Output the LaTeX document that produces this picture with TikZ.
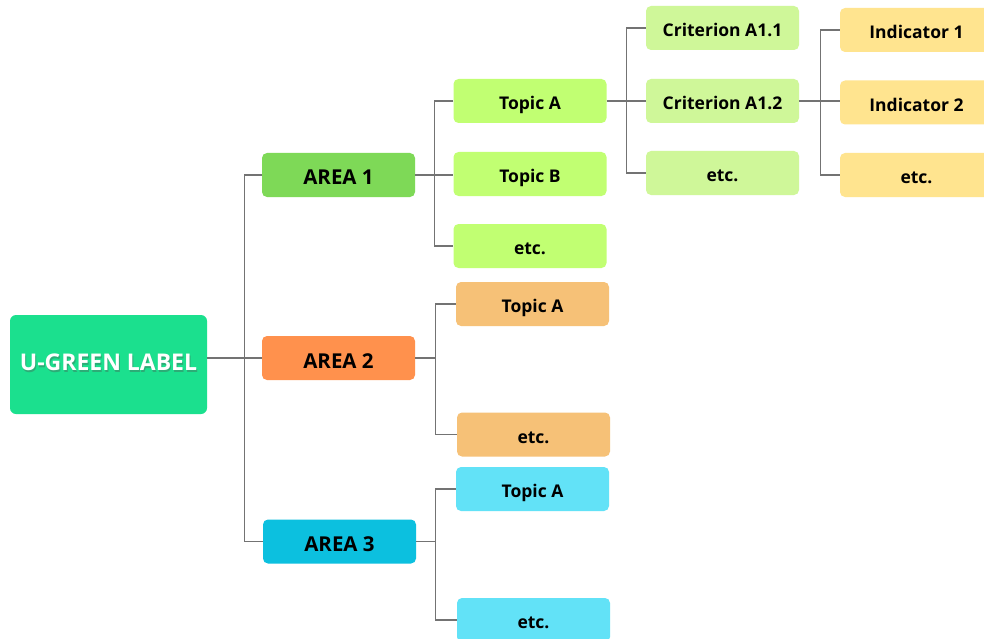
\documentclass[tikz,border=0pt]{standalone}
\usepackage{fontspec}
\setmainfont{Open Sans}
\definecolor{labelgreen}{HTML}{1BE08E}
\definecolor{areaone}{HTML}{7ED957}
\definecolor{areatwo}{HTML}{FF914D}
\definecolor{areathree}{HTML}{0CC0DF}
\definecolor{topicone}{HTML}{C1FF72}
\definecolor{topictwo}{HTML}{F6C177}
\definecolor{topicthree}{HTML}{62E2F7}
\definecolor{critfill}{HTML}{CFF799}
\definecolor{indfill}{HTML}{FFE48F}
\begin{document}
\begin{tikzpicture}[x=1pt,y=-1pt,
  box/.style={rounded corners=5pt, minimum width=153pt, minimum height=44pt, inner sep=0pt, text height=17.5pt, text depth=0pt, text=black, font=\fontsize{17.5}{20}\selectfont\bfseries},
  area/.style={box, text height=20pt, font=\fontsize{20.5}{24}\selectfont\bfseries},
  conn/.style={draw=black!55, line width=1.2pt}]
\clip (0,0) rectangle (984,639);
\fill[white] (0,0) rectangle (984,639);

\node[fill=labelgreen, rounded corners=6pt, minimum width=197pt, minimum height=99pt] (root) at (108.5,364.5) {};
\node[text=black!70, opacity=.35, font=\fontsize{23}{27}\selectfont\bfseries] (rootshadow) at (109.5,364) {U-GREEN LABEL};
\node[text=white, font=\fontsize{23}{27}\selectfont\bfseries] (roottext) at (108.5,362.5) {U-GREEN LABEL};

\node[area, fill=areaone] (area1) at (338.5,175) {AREA 1};
\node[area, fill=areatwo] (area2) at (338.5,358) {AREA 2};
\node[area, fill=areathree] (area3) at (339.5,541.5) {AREA 3};

\node[box, fill=topicone] (topa1) at (530,101) {Topic A};
\node[box, fill=topicone] (topb1) at (530,174) {Topic B};
\node[box, fill=topicone] (etc1) at (530,246) {etc.};

\node[box, fill=topictwo] (topa2) at (532.5,304) {Topic A};
\node[box, fill=topictwo] (etc2) at (533.5,434.5) {etc.};

\node[box, fill=topicthree] (topa3) at (532.5,489) {Topic A};
\node[box, fill=topicthree] (etc3) at (533.5,620) {etc.};

\node[box, fill=critfill] (crita) at (722.5,28) {Criterion A1.1};
\node[box, fill=critfill] (critb) at (722.5,101) {Criterion A1.2};
\node[box, fill=critfill] (critc) at (722.5,173) {etc.};

\node[box, fill=indfill] (inda) at (916.5,30) {Indicator 1};
\node[box, fill=indfill] (indb) at (916.5,102.5) {Indicator 2};
\node[box, fill=indfill] (indc) at (916.5,175) {etc.};

\path (topa2.west) ++(-20,0) coordinate (fork2);
\path (topa3.west) ++(-20,0) coordinate (fork3);

\draw[conn] (root.east |- area2.west) -- (area2.west);
\draw[conn] (area1.west) -- ++(-17,0) |- (area3.west);
\draw[conn] (area1.east) -- (area1.east -| topb1.west);
\draw[conn] (topa1.west) -- ++(-19,0) |- (etc1.west);
\draw[conn] (area2.east) -- (area2.east -| fork2);
\draw[conn] (topa2.west) -- ++(-20,0) |- (etc2.west);
\draw[conn] (area3.east) -- (area3.east -| fork3);
\draw[conn] (topa3.west) -- ++(-20,0) |- (etc3.west);
\draw[conn] (topa1.east) -- (critb.west);
\draw[conn] (crita.west) -- ++(-19,0) |- (critc.west);
\draw[conn] (critb.east) -- (critb.east -| indb.west);
\draw[conn] (inda.west) -- ++(-19,0) |- (indc.west);
\end{tikzpicture}
\end{document}
